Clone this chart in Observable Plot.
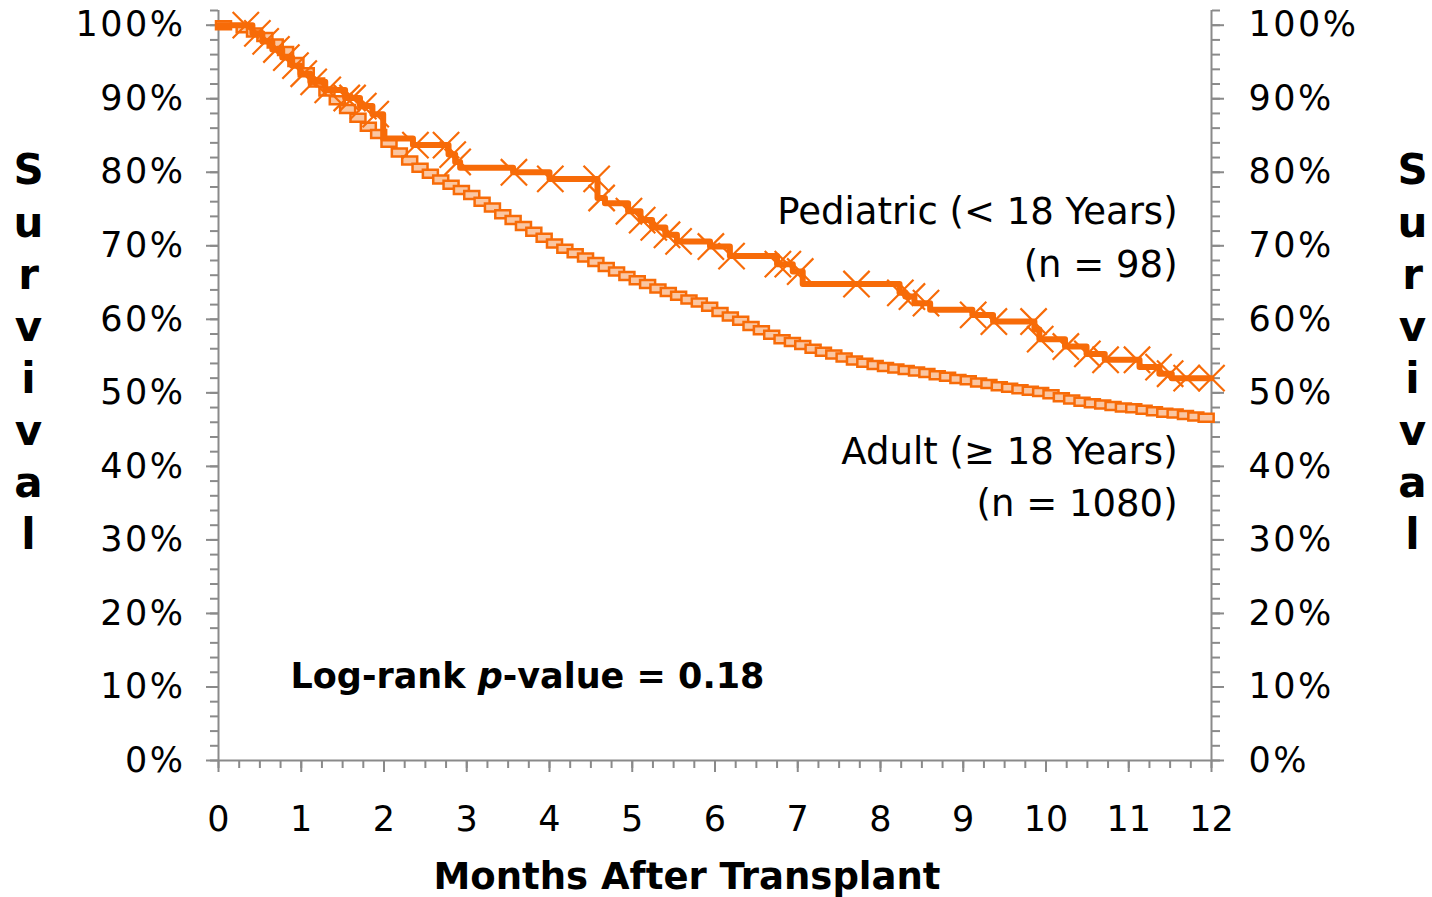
<!DOCTYPE html>
<html><head><meta charset="utf-8">
<script src="https://cdn.jsdelivr.net/npm/d3@7"></script>
<script src="https://cdn.jsdelivr.net/npm/@observablehq/plot@0.6"></script>
<style>body{margin:0;background:#fff}</style>
</head><body><div id="chart"></div>
<script>
// ---- data ----
const xMajor = [0,1,2,3,4,5,6,7,8,9,10,11,12];
const xMinor = d3.range(0, 12.001, 0.25);
const yMajor = [0,10,20,30,40,50,60,70,80,90,100];
const yMinor = d3.range(0, 102.001, 2);

// Pediatric (< 18 years), step points (months, survival %)
const pedT = [0, 0.41, 0.53, 0.65, 0.77, 0.89, 0.99, 1.11, 1.29, 1.53, 1.71, 1.86, 1.99, 2.35, 2.78, 2.86, 2.92, 3.56, 4.0, 4.58, 4.67, 4.95, 5.1, 5.24, 5.4, 5.54, 5.94, 6.18, 6.75, 6.94, 7.06, 8.23, 8.3, 8.41, 8.6, 9.11, 9.36, 9.86, 9.92, 10.23, 10.49, 10.71, 11.13, 11.37, 11.52, 12];
const pedS = [100, 98.9, 97.8, 96.7, 95.6, 94.5, 93.4, 92.3, 91.2, 90.1, 89.0, 87.9, 84.6, 83.7, 82.4, 81.4, 80.6, 80.0, 79.1, 76.5, 75.8, 74.7, 73.5, 72.5, 71.5, 70.6, 69.9, 68.6, 67.5, 66.5, 64.8, 63.6, 63.1, 62.2, 61.3, 60.6, 59.7, 58.6, 57.3, 56.3, 55.3, 54.5, 53.5, 52.6, 52.0, 52.0];
// Pediatric censor marks (months)
const pedCensor = [0.33, 0.47, 0.57, 0.7, 0.82, 0.93, 1.03, 1.15, 1.32, 1.55, 1.62, 1.75, 1.9, 2.38, 2.75, 2.83, 2.89, 3.57, 4.01, 4.57, 4.63, 4.96, 5.12, 5.26, 5.42, 5.56, 5.95, 6.2, 6.76, 6.88, 7.03, 7.71, 8.24, 8.38, 8.55, 9.12, 9.37, 9.85, 9.93, 10.24, 10.5, 10.72, 11.1, 11.36, 11.5, 11.7, 12.0];

// Adult (>= 18 years), step points (months, survival %)
const adultT = [0, 0.25, 0.375, 0.5, 0.625, 0.75, 0.875, 1.0, 1.125, 1.25, 1.375, 1.5, 1.625, 1.75, 1.875, 2.0, 2.125, 2.25, 2.375, 2.5, 2.625, 2.75, 2.875, 3.0, 3.125, 3.25, 3.375, 3.5, 3.625, 3.75, 3.875, 4.0, 4.125, 4.25, 4.375, 4.5, 4.625, 4.75, 4.875, 5.0, 5.125, 5.25, 5.375, 5.5, 5.625, 5.75, 5.875, 6.0, 6.125, 6.25, 6.375, 6.5, 6.625, 6.75, 6.875, 7.0, 7.125, 7.25, 7.375, 7.5, 7.625, 7.75, 7.875, 8.0, 8.125, 8.25, 8.375, 8.5, 8.625, 8.75, 8.875, 9.0, 9.125, 9.25, 9.375, 9.5, 9.625, 9.75, 9.875, 10.0, 10.125, 10.25, 10.375, 10.5, 10.625, 10.75, 10.875, 11.0, 11.125, 11.25, 11.375, 11.5, 11.625, 11.75, 11.875, 12.0];
const adultS = [100, 99.6, 99.0, 98.4, 97.5, 96.5, 95.0, 93.6, 92.2, 91.0, 89.8, 88.6, 87.4, 86.2, 85.2, 84.0, 82.7, 81.6, 80.6, 79.8, 79.0, 78.3, 77.6, 76.9, 76.0, 75.2, 74.3, 73.5, 72.7, 71.9, 71.1, 70.3, 69.6, 69.0, 68.4, 67.8, 67.1, 66.5, 65.9, 65.3, 64.8, 64.2, 63.7, 63.2, 62.7, 62.3, 61.7, 61.0, 60.4, 59.8, 59.1, 58.5, 57.9, 57.3, 56.9, 56.5, 56.0, 55.6, 55.2, 54.8, 54.4, 54.1, 53.8, 53.5, 53.3, 53.1, 52.9, 52.7, 52.4, 52.2, 51.9, 51.7, 51.4, 51.2, 50.9, 50.7, 50.5, 50.3, 50.1, 49.8, 49.4, 49.1, 48.8, 48.6, 48.4, 48.2, 48.0, 47.9, 47.7, 47.5, 47.3, 47.2, 47.0, 46.8, 46.6, 46.4];

const titleY = "S\nu\nr\nv\ni\nv\na\nl";
const titleX = "Months After Transplant";
const annLabels = ["Pediatric (< 18 Years)\n(n = 98)", "Adult (\u2265 18 Years)\n(n = 1080)"];
const annX = [11.59, 11.59];
const annY = [65.8, 33.2];
const logrank = "Log-rank p-value = 0.18";

// ---- build ----
const orange = "#f76b08";
const peach = "#fac6a2";
const gray = "#8a8a8a";
const ped = pedT.map((t, i) => ({t, s: pedS[i]}));
const adult = adultT.map((t, i) => ({t, s: adultS[i]}));
const stepAt = (t) => { let v = pedS[0]; for (let i = 0; i < pedT.length; i++) if (pedT[i] <= t) v = pedS[i]; return v; };
const pedMarks = pedCensor.map(t => ({t, s: stepAt(t)}));
const ann = annLabels.map((text, i) => ({text, x: annX[i], y: annY[i]}));
const rectSymbol = {draw(ctx) { ctx.moveTo(-7.5, -4); ctx.lineTo(7.5, -4); ctx.lineTo(7.5, 4); ctx.lineTo(-7.5, 4); ctx.closePath(); }};

const font = '"DejaVu Sans", Verdana, sans-serif';
const chart = Plot.plot({
  width: 1432, height: 897,
  marginLeft: 218, marginRight: 221, marginTop: 10, marginBottom: 137,
  style: {fontFamily: font, fontSize: "35px", color: "#000", background: "#fff", overflow: "visible"},
  x: {domain: [0, 12]},
  y: {domain: [0, 102]},
  marks: [
    Plot.axisY(yMinor, {anchor: "left", tickSize: 8, tickFormat: () => "", stroke: gray, strokeWidth: 2, label: null}),
    Plot.axisY(yMinor, {anchor: "right", tickSize: 8, tickFormat: () => "", stroke: gray, strokeWidth: 2, label: null}),
    Plot.axisX(xMinor, {anchor: "bottom", tickSize: 8, tickFormat: () => "", stroke: gray, strokeWidth: 2, label: null}),
    Plot.axisY(yMajor, {anchor: "left", tickSize: 12, tickPadding: 21, tickFormat: d => d + "%", stroke: gray, strokeWidth: 2, fill: "#000", fontSize: 35, label: null, className: "pct"}),
    Plot.axisY(yMajor, {anchor: "right", tickSize: 12, tickPadding: 25, tickFormat: d => d + "%", stroke: gray, strokeWidth: 2, fill: "#000", fontSize: 35, label: null, className: "pct"}),
    Plot.axisX(xMajor, {anchor: "bottom", tickSize: 12, tickPadding: 34, stroke: gray, strokeWidth: 2, fill: "#000", fontSize: 35, label: null}),
    Plot.ruleX([0, 12], {y1: 0, y2: 102, stroke: gray, strokeWidth: 2}),
    Plot.ruleY([0], {x1: 0, x2: 12, stroke: gray, strokeWidth: 2}),
    Plot.line(adult, {x: "t", y: "s", curve: "step-after", stroke: orange, strokeWidth: 4}),
    Plot.dot(adult.slice(0, -1), {x: "t", y: "s", symbol: rectSymbol, r: 5, dx: 5, stroke: orange, strokeWidth: 2.5, fill: peach}),
    Plot.line(ped, {x: "t", y: "s", curve: "step-after", stroke: orange, strokeWidth: 6}),
    Plot.dot(pedMarks, {x: "t", y: "s", symbol: "times", r: 12, stroke: orange, strokeWidth: 2.2}),
    Plot.text(ann, {x: "x", y: "y", text: "text", textAnchor: "end", lineAnchor: "bottom", lineHeight: 1.42, fontSize: 37, fill: "#000"}),
    Plot.text([logrank], {x: () => 0.87, y: () => 9.8, text: d => d, textAnchor: "start", lineAnchor: "bottom", fontSize: 35, fontWeight: "bold", fill: "#000"}),
    Plot.text([titleY], {text: d => d, frameAnchor: "top-left", dx: -190, dy: 137, lineAnchor: "top", lineHeight: 1.24, textAnchor: "middle", fontSize: 42, fontWeight: "bold", fill: "#000"}),
    Plot.text([titleY], {text: d => d, frameAnchor: "top-right", dx: 201, dy: 137, lineAnchor: "top", lineHeight: 1.24, textAnchor: "middle", fontSize: 42, fontWeight: "bold", fill: "#000"}),
    Plot.text([titleX], {text: d => d, frameAnchor: "bottom", dx: -28, dy: 128, lineAnchor: "bottom", fontSize: 37, fontWeight: "bold", fill: "#000"})
  ]
});
document.getElementById("chart").appendChild(chart);

// wider percentage tick labels (closer to the original's Verdana)
d3.select(chart).selectAll("text").filter(function() { return /%$/.test(this.textContent); })
  .attr("letter-spacing", "2.5px");

// italic "p" in the log-rank label
d3.select(chart).selectAll("text").filter(function() { return this.textContent === logrank; }).each(function() {
  const el = d3.select(this);
  el.text(null);
  el.append("tspan").text("Log-rank ");
  el.append("tspan").attr("font-style", "italic").text("p");
  el.append("tspan").text("-value = 0.18");
});
</script>
</body></html>
